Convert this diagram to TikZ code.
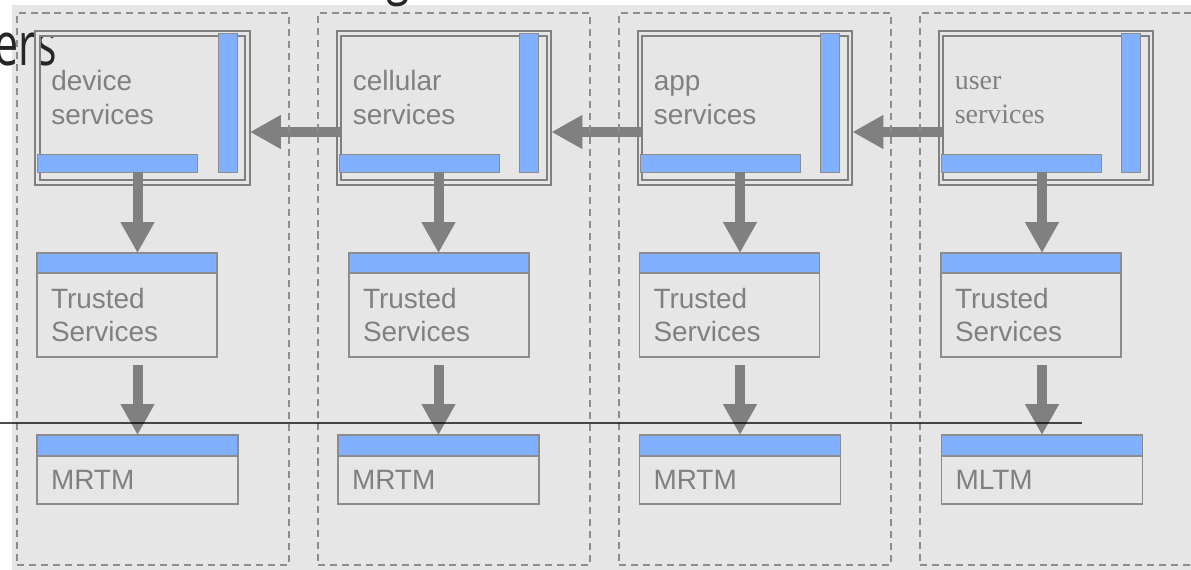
\documentclass[tikz,border=0pt]{standalone}
\usepackage{fontspec}
\setmainfont{Liberation Sans}
\newfontfamily\serifface{Liberation Serif}
\newfontfamily\titleface{Open Sans}
\usetikzlibrary{positioning, arrows.meta}

\definecolor{panelgray}{HTML}{E6E6E6}
\definecolor{framegray}{HTML}{8C8C8C}
\definecolor{textgray}{HTML}{808080}
\definecolor{barblue}{HTML}{80B0FF}
\definecolor{arrowgray}{HTML}{808080}

\begin{document}
\begin{tikzpicture}[
		x=0.02cm, y=-0.02cm,
		column/.style={draw=framegray, line width=1.1pt, dash pattern=on 4pt off 2.8pt, minimum width=5.44cm, minimum height=11.04cm, inner sep=0pt, outer sep=0pt},
		service/.style={draw=arrowgray, line width=1pt, double=panelgray, double distance=1.5pt, minimum width=4.2cm, minimum height=2.98cm, inner sep=0pt, outer sep=0pt},
		hbar/.style={draw=framegray, line width=0.5pt, fill=barblue, minimum width=3.2cm, minimum height=0.36cm, inner sep=0pt, outer sep=0pt},
		vbar/.style={draw=framegray, line width=0.5pt, fill=barblue, minimum width=0.38cm, minimum height=2.78cm, inner sep=0pt, outer sep=0pt},
		srvlabel/.style={text=textgray, font=\fontsize{15.9}{19.3}\selectfont, align=left, inner sep=0pt},
		head/.style={draw=framegray, line width=0.6pt, fill=barblue, inner sep=0pt, outer sep=0pt},
		layer/.style={draw=framegray, line width=0.6pt, text=textgray, font=\fontsize{15.9}{19.3}\selectfont, align=left, inner xsep=0.28cm, inner ysep=0pt, outer sep=0pt},
		flow/.style={draw=arrowgray, line width=0.2cm, -{Triangle[length=0.62cm, width=0.64cm]}},
		titletext/.style={text=black!85, font=\titleface\fontsize{34}{40}\selectfont, inner sep=0pt, xscale=0.72, transform shape}
		]
		
		\useasboundingbox (0,0) rectangle (1191,569);
		\fill[panelgray] (12,5) rectangle (1210,590);
		
		% title fragments
		\node[titletext, anchor=base east] (TitleEnd) at (57,65) {ers};
		\node[titletext, anchor=base west] (TitleTop) at (386,-8) {g};
		
		% ==========================================
		% COLUMN 1: DEVICE
		% ==========================================
		
		\node[service] (DevSrv) at (142.5,108) {};
		\node[vbar, below left=0cm and 0.21cm of DevSrv.north east] (DevBarV) {};
		\node[hbar, above right=0.21cm and 0cm of DevSrv.south west] (DevBarH) {};
		\node[srvlabel, below right=0.73cm and 0.27cm of DevSrv.north west] (DevLabel) {device\\services};
		
		\node[head, minimum width=3.6cm, minimum height=0.4cm] (DevTrustHead) at (127,263) {};
		\node[layer, text width=3.04cm, minimum height=1.68cm, below=0cm of DevTrustHead] (DevTrust) {Trusted\\Services};
		
		\node[head, minimum width=4.02cm, minimum height=0.42cm] (DevMRTMHead) at (137.5,445.5) {};
		\node[layer, text width=3.46cm, minimum height=0.96cm, below=0cm of DevMRTMHead] (DevMRTM) {MRTM};
		
		\draw[flow] (DevBarH.south -| DevMRTMHead.north) -- (DevTrustHead.north -| DevMRTMHead.north);
		\draw[flow, shorten <=0.16cm] (DevTrust.south -| DevMRTMHead.north) -- (DevMRTMHead.north);
		
		% ==========================================
		% COLUMN 2: CELLULAR
		% ==========================================
		
		\node[service] (CellSrv) at (444,108) {};
		\node[vbar, below left=0cm and 0.21cm of CellSrv.north east] (CellBarV) {};
		\node[hbar, above right=0.21cm and 0cm of CellSrv.south west] (CellBarH) {};
		\node[srvlabel, below right=0.73cm and 0.27cm of CellSrv.north west] (CellLabel) {cellular\\services};
		
		\node[head, minimum width=3.6cm, minimum height=0.4cm] (CellTrustHead) at (439,263) {};
		\node[layer, text width=3.04cm, minimum height=1.68cm, below=0cm of CellTrustHead] (CellTrust) {Trusted\\Services};
		
		\node[head, minimum width=4.02cm, minimum height=0.42cm] (CellMRTMHead) at (438.5,445.5) {};
		\node[layer, text width=3.46cm, minimum height=0.96cm, below=0cm of CellMRTMHead] (CellMRTM) {MRTM};
		
		\draw[flow] (CellBarH.south -| CellMRTMHead.north) -- (CellTrustHead.north -| CellMRTMHead.north);
		\draw[flow, shorten <=0.16cm] (CellTrust.south -| CellMRTMHead.north) -- (CellMRTMHead.north);
		
		% ==========================================
		% COLUMN 3: APP
		% ==========================================
		
		\node[service] (AppSrv) at (745,108) {};
		\node[vbar, below left=0cm and 0.21cm of AppSrv.north east] (AppBarV) {};
		\node[hbar, above right=0.21cm and 0cm of AppSrv.south west] (AppBarH) {};
		\node[srvlabel, below right=0.73cm and 0.27cm of AppSrv.north west] (AppLabel) {\vphantom{d}app\\services};
		
		\node[head, minimum width=3.6cm, minimum height=0.4cm] (AppTrustHead) at (729.5,263) {};
		\node[layer, text width=3.04cm, minimum height=1.68cm, below=0cm of AppTrustHead] (AppTrust) {Trusted\\Services};
		
		\node[head, minimum width=4.02cm, minimum height=0.42cm] (AppMRTMHead) at (740,445.5) {};
		\node[layer, text width=3.46cm, minimum height=0.96cm, below=0cm of AppMRTMHead] (AppMRTM) {MRTM};
		
		\draw[flow] (AppBarH.south -| AppMRTMHead.north) -- (AppTrustHead.north -| AppMRTMHead.north);
		\draw[flow, shorten <=0.16cm] (AppTrust.south -| AppMRTMHead.north) -- (AppMRTMHead.north);
		
		% ==========================================
		% COLUMN 4: USER
		% ==========================================
		
		\node[service] (UserSrv) at (1046,108) {};
		\node[vbar, below left=0cm and 0.21cm of UserSrv.north east] (UserBarV) {};
		\node[hbar, above right=0.21cm and 0cm of UserSrv.south west] (UserBarH) {};
		\node[srvlabel, font=\serifface\fontsize{15.9}{19.3}\selectfont, below right=0.73cm and 0.27cm of UserSrv.north west] (UserLabel) {\vphantom{d}user\\services};
		
		\node[head, minimum width=3.6cm, minimum height=0.4cm] (UserTrustHead) at (1031,263) {};
		\node[layer, text width=3.04cm, minimum height=1.68cm, below=0cm of UserTrustHead] (UserTrust) {Trusted\\Services};
		
		\node[head, minimum width=4.02cm, minimum height=0.42cm] (UserMLTMHead) at (1042,445.5) {};
		\node[layer, text width=3.46cm, minimum height=0.96cm, below=0cm of UserMLTMHead] (UserMLTM) {MLTM};
		
		\draw[flow] (UserBarH.south -| UserMLTMHead.north) -- (UserTrustHead.north -| UserMLTMHead.north);
		\draw[flow, shorten <=0.16cm] (UserTrust.south -| UserMLTMHead.north) -- (UserMLTMHead.north);
		
		% ==========================================
		% SERVICE CHAIN
		% ==========================================
		\draw[flow, shorten <=-0.05cm, shorten >=0.05cm] ([yshift=-0.48cm]CellSrv.west) -- ([yshift=-0.48cm]DevSrv.east);
		\draw[flow, shorten <=-0.05cm, shorten >=0.05cm] ([yshift=-0.48cm]AppSrv.west) -- ([yshift=-0.48cm]CellSrv.east);
		\draw[flow, shorten <=-0.05cm, shorten >=0.05cm] ([yshift=-0.48cm]UserSrv.west) -- ([yshift=-0.48cm]AppSrv.east);
		
		% dashed columns
		\node[column] (ColDev) at (153,289) {};
		\node[column] (ColCell) at (454,289) {};
		\node[column] (ColApp) at (755,289) {};
		\node[column] (ColUser) at (1056,289) {};
		
		% divider
		\coordinate (LineL) at (0,423);
		\coordinate (LineR) at (1082,423);
		\draw[black, opacity=0.7, line width=1.2pt] (LineL) -- (LineR);
		
	\end{tikzpicture}
\end{document}
